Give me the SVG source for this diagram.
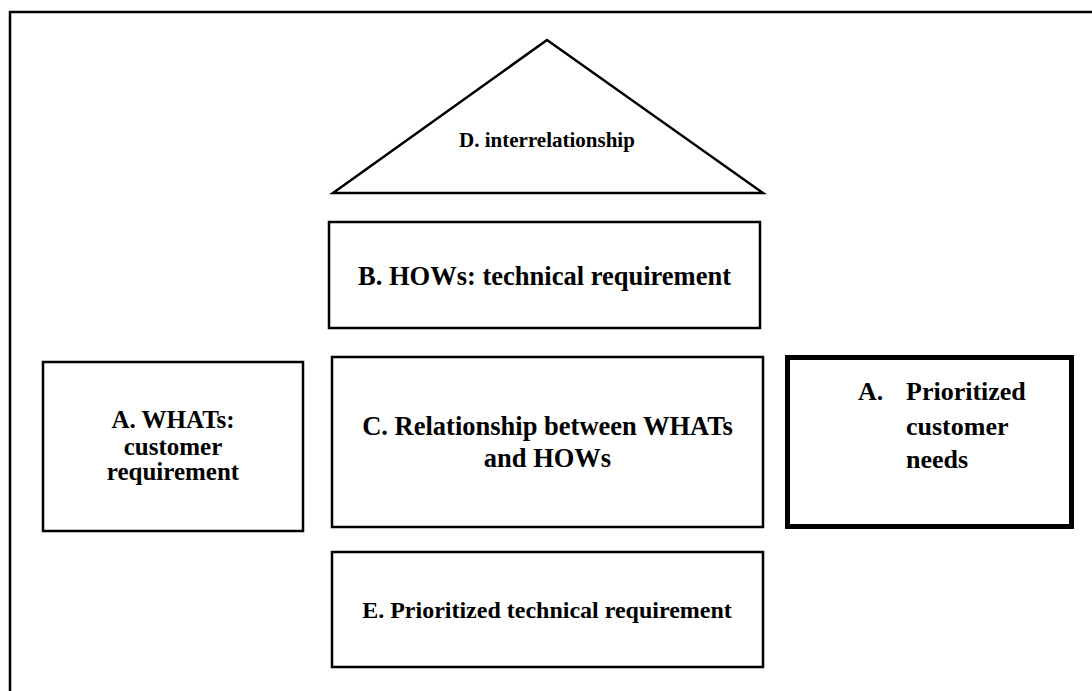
<svg xmlns="http://www.w3.org/2000/svg" width="1092" height="691" viewBox="0 0 1092 691">
  <style>
    .box { fill: #fff; stroke: #000; stroke-width: 2.5; }
    .thick { fill: #fff; stroke: #000; stroke-width: 5; }
    .t { font-family: "Liberation Serif", "Times New Roman", serif; font-weight: bold; fill: #000; }
    .c { text-anchor: middle; }
  </style>
  <rect width="1092" height="691" fill="#fff"/>
  <path d="M10,691 V12 H1092" fill="none" stroke="#000" stroke-width="2.5"/>
  <g id="connectors"/>
  <g id="D-interrelationship">
    <polygon class="box" points="547,40 333,193 763,193"/>
    <text class="t c" x="547" y="147" font-size="21">D. interrelationship</text>
  </g>
  <g id="B-hows">
    <rect class="box" x="329" y="222" width="431" height="106"/>
    <text class="t c" x="544.5" y="285" font-size="26.5">B. HOWs: technical requirement</text>
  </g>
  <g id="C-relationship">
    <rect class="box" x="332" y="357" width="431" height="170"/>
    <text class="t c" x="547.5" y="435" font-size="26.5">C. Relationship between WHATs</text>
    <text class="t c" x="547.5" y="467" font-size="26.5">and HOWs</text>
  </g>
  <g id="E-prioritized-technical">
    <rect class="box" x="332" y="552" width="431" height="115"/>
    <text class="t c" x="547" y="618" font-size="24">E. Prioritized technical requirement</text>
  </g>
  <g id="A-whats">
    <rect class="box" x="43" y="362" width="260" height="169"/>
    <text class="t c" x="173" y="428" font-size="25">A. WHATs:</text>
    <text class="t c" x="173" y="455" font-size="25">customer</text>
    <text class="t c" x="173" y="480" font-size="25">requirement</text>
  </g>
  <g id="A-prioritized-needs">
    <rect class="thick" x="787.5" y="357.5" width="284" height="169"/>
    <text class="t" x="858" y="400" font-size="26">A.</text>
    <text class="t" x="906" y="400" font-size="26">Prioritized</text>
    <text class="t" x="906" y="435" font-size="26">customer</text>
    <text class="t" x="906" y="468" font-size="26">needs</text>
  </g>
</svg>
